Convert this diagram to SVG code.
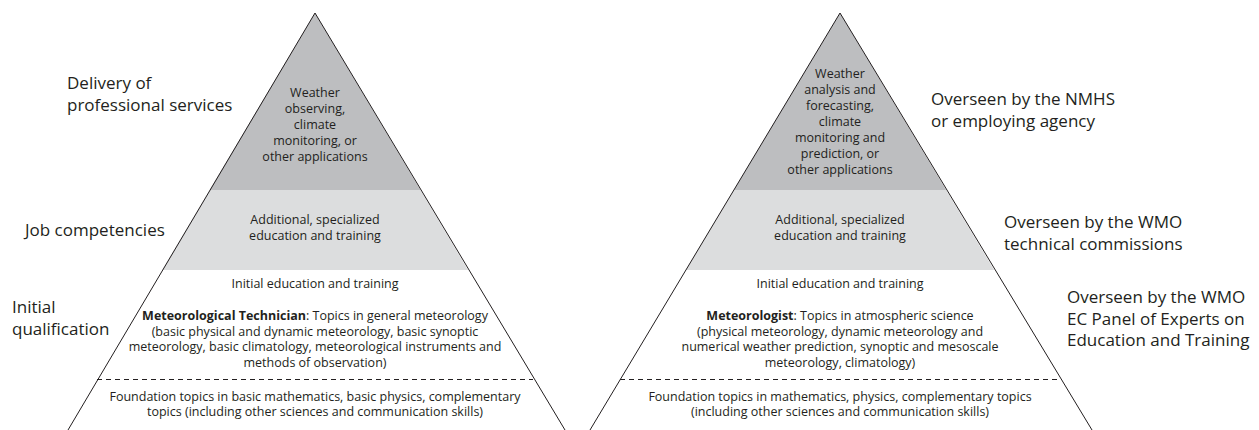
<svg xmlns="http://www.w3.org/2000/svg" width="1259" height="430" viewBox="0 0 1259 430">
<style>
.t{font-family:"Open Sans","Liberation Sans",sans-serif;font-size:12.5px;fill:#231f20;text-anchor:middle}
.lbl{font-family:"Open Sans","Liberation Sans",sans-serif;font-size:17px;fill:#231f20}
.dark{fill:#bdbec0}
.light{fill:#dcddde}
.edge{fill:none;stroke:#231f20;stroke-width:1}
.dash{stroke:#231f20;stroke-width:1;stroke-dasharray:5 4}
.b{font-weight:bold}
</style>
<rect width="1259" height="430" fill="#ffffff"/>

<!-- Left pyramid -->
<g id="left-top">
  <polygon class="dark" points="315,13 209.5,190 420.5,190"/>
  <text class="t"><tspan x="315" y="97">Weather</tspan><tspan x="315" y="113">observing,</tspan><tspan x="315" y="129">climate</tspan><tspan x="315" y="145">monitoring, or</tspan><tspan x="315" y="161">other applications</tspan></text>
</g>
<g id="left-middle">
  <polygon class="light" points="209.5,190 420.5,190 468,270 162,270"/>
  <text class="t"><tspan x="315" y="224">Additional, specialized</tspan><tspan x="315" y="240">education and training</tspan></text>
</g>
<g id="left-bottom">
  <text class="t" x="315" y="288">Initial education and training</text>
  <text class="t"><tspan x="315" y="320"><tspan class="b">Meteorological Technician</tspan>: Topics in general meteorology</tspan><tspan x="315" y="335.5">(basic physical and dynamic meteorology, basic synoptic</tspan><tspan x="315" y="351">meteorology, basic climatology, meteorological instruments and</tspan><tspan x="315" y="366.5">methods of observation)</tspan></text>
  <text class="t"><tspan x="315" y="401">Foundation topics in basic mathematics, basic physics, complementary</tspan><tspan x="315" y="416">topics (including other sciences and communication skills)</tspan></text>
</g>

<!-- Right pyramid -->
<g id="right-top">
  <polygon class="dark" points="840,13 733.8,190 946.2,190"/>
  <text class="t"><tspan x="840" y="78">Weather</tspan><tspan x="840" y="94">analysis and</tspan><tspan x="840" y="110">forecasting,</tspan><tspan x="840" y="126">climate</tspan><tspan x="840" y="142">monitoring and</tspan><tspan x="840" y="158">prediction, or</tspan><tspan x="840" y="174">other applications</tspan></text>
</g>
<g id="right-middle">
  <polygon class="light" points="733.8,190 946.2,190 994.2,270 685.8,270"/>
  <text class="t"><tspan x="840" y="224">Additional, specialized</tspan><tspan x="840" y="240">education and training</tspan></text>
</g>
<g id="right-bottom">
  <text class="t" x="840" y="288">Initial education and training</text>
  <text class="t"><tspan x="840" y="320"><tspan class="b">Meteorologist</tspan>: Topics in atmospheric science</tspan><tspan x="840" y="335.5">(physical meteorology, dynamic meteorology and</tspan><tspan x="840" y="351">numerical weather prediction, synoptic and mesoscale</tspan><tspan x="840" y="366.5">meteorology, climatology)</tspan></text>
  <text class="t"><tspan x="840" y="401">Foundation topics in mathematics, physics, complementary topics</tspan><tspan x="840" y="416">(including other sciences and communication skills)</tspan></text>
</g>

<!-- Outlines and dividers -->
<g id="connectors">
  <polyline class="edge" points="68,430 315,13 565,430"/>
  <line class="dash" x1="97" y1="379.5" x2="533" y2="379.5"/>
  <polyline class="edge" points="590,430 840,13 1092,430"/>
  <line class="dash" x1="620" y1="379.5" x2="1060" y2="379.5"/>
</g>

<!-- Side labels -->
<g id="label-delivery">
  <text class="lbl"><tspan x="67" y="89">Delivery of</tspan><tspan x="67" y="111">professional services</tspan></text>
</g>
<g id="label-job">
  <text class="lbl" x="25" y="236">Job competencies</text>
</g>
<g id="label-initial">
  <text class="lbl"><tspan x="12" y="313">Initial</tspan><tspan x="12" y="335">qualification</tspan></text>
</g>
<g id="label-nmhs">
  <text class="lbl"><tspan x="931" y="105">Overseen by the NMHS</tspan><tspan x="931" y="127">or employing agency</tspan></text>
</g>
<g id="label-tc">
  <text class="lbl"><tspan x="1004" y="228">Overseen by the WMO</tspan><tspan x="1004" y="250">technical commissions</tspan></text>
</g>
<g id="label-ec">
  <text class="lbl"><tspan x="1067" y="303">Overseen by the WMO</tspan><tspan x="1067" y="324.5">EC Panel of Experts on</tspan><tspan x="1067" y="346">Education and Training</tspan></text>
</g>
</svg>
